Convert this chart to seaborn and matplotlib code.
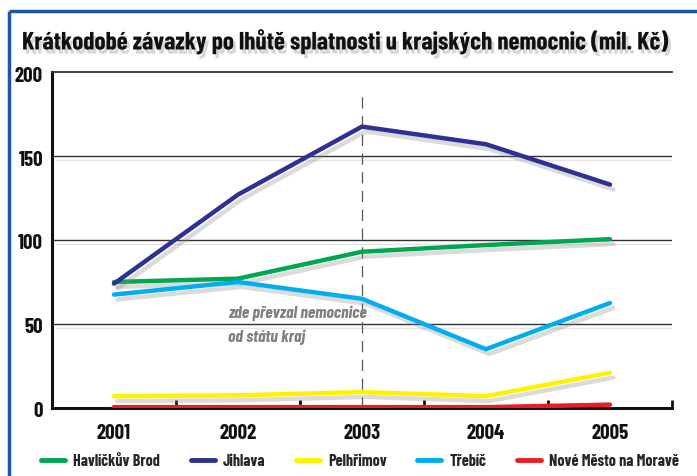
import matplotlib
matplotlib.use("Agg")
import matplotlib.pyplot as plt
import matplotlib.patheffects as pe
import matplotlib.transforms as mtrans
from matplotlib import font_manager
from matplotlib.lines import Line2D
import seaborn as sns
import pandas as pd

years = [2001, 2002, 2003, 2004, 2005]
havlickuv_brod = [75, 77, 93, 97, 100.5]
jihlava = [74, 127, 167.5, 157, 133]
pelhrimov = [7, 7.5, 9.5, 7, 21]
trebic = [67.5, 75, 65, 35, 62.5]
nove_mesto = [0.5, 0.5, 0.5, 0.5, 2]

series_names = ["Havlíčkův Brod", "Jihlava", "Pelhřimov", "Třebíč", "Nové Město na Moravě"]
series_values = [havlickuv_brod, jihlava, pelhrimov, trebic, nove_mesto]
colors = ["#00a651", "#2e3192", "#fff200", "#00aeef", "#ed1c24"]

title = "Krátkodobé závazky po lhůtě splatnosti u krajských nemocnic (mil. Kč)"
note_lines = ["zde převzal nemocnice", "od státu kraj"]
y_ticks = [0, 50, 100, 150, 200]

rows = []
for name, vals in zip(series_names, series_values):
    for yr, v in zip(years, vals):
        rows.append({"rok": yr, "hodnota": v, "nemocnice": name})
df = pd.DataFrame(rows)

sns.set_theme(style="white")
avail = {f.name for f in font_manager.fontManager.ttflist}
fam = "DejaVu Sans"
for cand in ["Barlow Condensed", "Roboto Condensed", "Fira Sans Condensed", "Archivo Narrow",
             "PT Sans Narrow", "Open Sans Condensed", "Encode Sans Condensed", "Yanone Kaffeesatz"]:
    if cand in avail:
        fam = cand
        break
families = [fam, "DejaVu Sans"]
plt.rcParams["font.family"] = families

DPI = 100
PX = 72 / DPI  # points per pixel

fig = plt.figure(figsize=(6.97, 4.77), dpi=DPI)
fig.patch.set_facecolor("white")
renderer = fig.canvas.get_renderer()


def text_width_px(s, size, **kw):
    t = fig.text(0, 0, s, fontsize=size, **kw)
    w = t.get_window_extent(renderer).width
    t.remove()
    return w


# blue frame (top and left)
fig.add_artist(Line2D([8.5 / 697, 8.5 / 697], [0, 1 - 11.5 / 477], transform=fig.transFigure,
                      color="#1f56a5", lw=2.5, solid_capstyle="butt"))
fig.add_artist(Line2D([8.5 / 697, 1], [1 - 11.5 / 477, 1 - 11.5 / 477], transform=fig.transFigure,
                      color="#1f56a5", lw=2.5, solid_capstyle="butt"))

ax = fig.add_axes([52 / 697, 1 - 409 / 477, (672 - 52) / 697, (409 - 73) / 477])
ax.set_facecolor("white")

shadow = [pe.SimpleLineShadow(offset=(2.5, -3.5), shadow_color="#888888", alpha=0.3), pe.Normal()]

sns.lineplot(data=df, x="rok", y="hodnota", hue="nemocnice", hue_order=series_names,
             palette=colors, linewidth=3.2, ax=ax, legend=False, zorder=5)
for ln in ax.get_lines():
    ln.set_path_effects(shadow)

ax.set_xlim(2000.5, 2005.5)
ax.set_ylim(0, 200)

for v in [50, 100, 150]:
    ax.axhline(v, color="#333333", lw=1.0, zorder=1,
               path_effects=[pe.SimpleLineShadow(offset=(2, -3), shadow_color="#999999", alpha=0.25), pe.Normal()])

ax.axvline(2003, ymin=0, ymax=0.94, color="#555555", lw=0.9, dashes=(9, 6), zorder=2)

ax.spines["right"].set_visible(False)
ax.spines["top"].set_color("#333333")
ax.spines["top"].set_linewidth(1.3)
ax.spines["left"].set_color("#111111")
ax.spines["left"].set_linewidth(2.2)
ax.spines["bottom"].set_color("#111111")
ax.spines["bottom"].set_linewidth(2.2)

ax.set_xticks(years)
ax.set_xticklabels([str(y) for y in years])
ax.set_xticks([2001.5, 2002.5, 2003.5, 2004.5, 2005.5], minor=True)
ax.tick_params(axis="x", which="major", length=0, pad=11, labelsize=15, labelcolor="#111111")
ax.tick_params(axis="x", which="minor", direction="in", length=6, width=2, color="#111111", bottom=True)
ax.set_yticks(y_ticks)
ax.set_yticklabels([str(v) for v in y_ticks], va="center")
ax.tick_params(axis="y", length=0, pad=9 * PX, labelsize=15, labelcolor="#111111")
shift = mtrans.ScaledTranslation(0, -3 / DPI, fig.dpi_scale_trans)
for lbl in ax.get_yticklabels():
    lbl.set_transform(lbl.get_transform() + shift)
for lbl in ax.get_xticklabels() + ax.get_yticklabels():
    lbl.set_fontweight("bold")
ax.set_xlabel("")
ax.set_ylabel("")

# annotation, sized from reference width (~124 px), a little larger for the wider font
note_kw = dict(fontstyle="italic", fontweight="bold")
nfs = 1.12 * 14 * 124 / text_width_px(note_lines[0], 14, **note_kw)
fig.text(228 / 697, 1 - 313 / 477, note_lines[0], fontsize=nfs, color="#808080", va="center", ha="left",
         zorder=6, **note_kw)
fig.text(228 / 697, 1 - 337 / 477, note_lines[1], fontsize=nfs, color="#808080", va="center", ha="left",
         zorder=6, **note_kw)

# title fitted to reference width (~646 px)
tkw = dict(fontweight="bold")
tfs = 20 * 646 / text_width_px(title, 20, **tkw)
fig.text(22 / 697, 1 - 43 / 477, title, fontsize=tfs, color="#111111", va="center", ha="left",
         path_effects=[pe.withSimplePatchShadow(offset=(2, -3), shadow_rgbFace="#999999", alpha=0.4)], **tkw)

# legend sized from reference layout (x 45 .. 684)
ref_text_sum = 356.0
meas = sum(text_width_px(s, 14, fontweight="bold") for s in series_names)
k = 1.0
lfs = k * 14 * ref_text_sum / meas
em = lfs / PX  # px per em
cs_px = max(12.0, (639 - 5 * 32 - ref_text_sum * k) / 4)
handles = [Line2D([0], [0], color=c, lw=3.5) for c in colors]
fig.legend(handles, series_names, loc="center", bbox_to_anchor=(360 / 697, 1 - 462 / 477),
           ncol=5, frameon=False, borderpad=0, borderaxespad=0, handlelength=24 / em,
           handletextpad=8 / em, columnspacing=cs_px / em,
           prop={"family": families, "weight": "bold", "size": lfs})

fig.savefig("out.png", dpi=DPI, facecolor="white")
